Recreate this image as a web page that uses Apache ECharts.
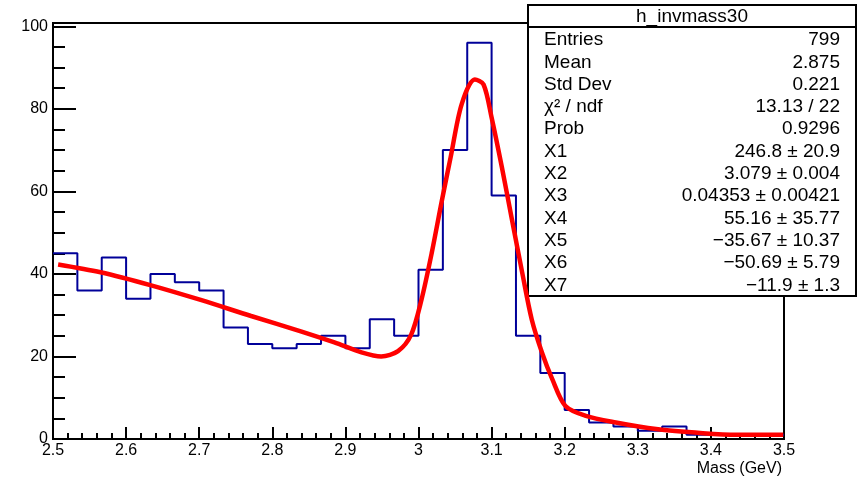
<!DOCTYPE html>
<html lang="en">
<head>
    <meta charset="UTF-8">
    <title>h_invmass30</title>
    <style>
        html, body { margin: 0; padding: 0; background: #fff; }
    </style>
</head>
<body>
<div id="main" style="width: 859px;height:480px;"></div>
<script src="https://cdn.jsdelivr.net/npm/echarts@6/dist/echarts.min.js"></script>
<script>
    // histogram: 30 bins between 2.5 and 3.5 GeV
    var histMin = 2.5;
    var histMax = 3.5;
    var counts = [45, 36, 44, 34, 40, 38, 36, 27, 23, 22,
                  23, 25, 22, 29, 25, 41, 70, 96, 59, 25,
                  16, 7, 4, 3, 2, 3, 1, 1, 1, 1];

    // fit curve
    var fitX = [2.507, 2.565, 2.633, 2.702, 2.771, 2.839, 2.885, 2.922, 2.949, 2.972,
                2.990, 3.004, 3.018, 3.032, 3.044, 3.059, 3.077, 3.089, 3.100, 3.114,
                3.128, 3.142, 3.155, 3.169, 3.183, 3.201, 3.229, 3.270, 3.325, 3.389,
                3.435, 3.499];
    var fitY = [42.3, 40.4, 37.3, 33.7, 29.8, 26.1, 23.4, 21.0, 20.0, 21.3,
                25.3, 33.7, 45.0, 57.8, 68.3, 81.1, 87.1, 85.9, 77.9, 65.9,
                53.0, 40.2, 28.9, 20.9, 14.5, 8.0, 5.6, 4.0, 2.4, 1.4,
                1.0, 1.0];

    // stat box
    var statTitle = 'h_invmass30';
    var statNames = ['Entries', 'Mean', 'Std Dev', 'χ² / ndf', 'Prob',
                     'X1', 'X2', 'X3', 'X4', 'X5', 'X6', 'X7'];
    var statValues = ['799', '2.875', '0.221', '13.13 / 22', '0.9296',
                      '246.8 ± 20.9', '3.079 ± 0.004', '0.04353 ± 0.00421',
                      '55.16 ± 35.77', '\u221235.67 ± 10.37', '\u221250.69 ± 5.79',
                      '\u221211.9 ± 1.3'];

    var histData = [];
    var binW = (histMax - histMin) / counts.length;
    for (var i = 0; i < counts.length; i++) {
        histData.push([histMin + i * binW, counts[i]]);
    }
    histData.push([histMax, counts[counts.length - 1]]);

    var fitData = [];
    for (var j = 0; j < fitX.length; j++) {
        fitData.push([fitX[j], fitY[j]]);
    }

    var font = 'Liberation Sans, Arial, Helvetica, sans-serif';

    // stat box elements
    var boxEls = [
        {
            type: 'rect',
            shape: {x: 528, y: 5, width: 328, height: 291},
            style: {fill: '#fff', stroke: '#000', lineWidth: 2}
        },
        {
            type: 'line',
            shape: {x1: 528, y1: 27, x2: 856, y2: 27},
            style: {stroke: '#000', lineWidth: 2}
        },
        {
            type: 'text',
            x: 692, y: 17,
            style: {text: statTitle, font: '19px ' + font, fill: '#000',
                    align: 'center', verticalAlign: 'middle'}
        }
    ];
    for (var k = 0; k < statNames.length; k++) {
        var yy = 40 + k * 22.3;
        boxEls.push({
            type: 'text', x: 544, y: yy,
            style: {text: statNames[k], font: '19px ' + font, fill: '#000',
                    align: 'left', verticalAlign: 'middle'}
        });
        boxEls.push({
            type: 'text', x: 840, y: yy,
            style: {text: statValues[k], font: '19px ' + font, fill: '#000',
                    align: 'right', verticalAlign: 'middle'}
        });
    }

    var myChart = echarts.init(document.getElementById('main'));

    var option = {
        animation: false,
        backgroundColor: '#fff',
        grid: {
            left: 53, right: 75, top: 23, bottom: 41,
            show: true,
            borderColor: '#000',
            borderWidth: 2,
            backgroundColor: 'transparent'
        },
        xAxis: {
            type: 'value',
            min: 2.5,
            max: 3.5,
            interval: 0.1,
            name: 'Mass (GeV)',
            nameLocation: 'end',
            nameGap: -2,
            nameTextStyle: {
                fontFamily: font, fontSize: 16, color: '#000',
                align: 'right', verticalAlign: 'top', padding: [22, 0, 0, 0]
            },
            axisLine: {lineStyle: {color: '#000', width: 2}},
            axisTick: {inside: true, length: 12, lineStyle: {color: '#000', width: 2}},
            minorTick: {show: true, splitNumber: 5, length: 6, lineStyle: {color: '#000', width: 2}},
            axisLabel: {
                fontFamily: font, fontSize: 16, color: '#000', margin: 4,
                formatter: function (v) {
                    return String(Math.round(v * 10) / 10);
                }
            },
            splitLine: {show: false}
        },
        yAxis: {
            type: 'value',
            min: 0,
            max: 100.8,
            interval: 20,
            axisLine: {show: true, lineStyle: {color: '#000', width: 2}},
            axisTick: {inside: true, length: 23, lineStyle: {color: '#000', width: 2}},
            minorTick: {show: true, splitNumber: 4, length: 12, lineStyle: {color: '#000', width: 2}},
            axisLabel: {
                fontFamily: font, fontSize: 16, color: '#000', margin: 5,
                formatter: function (v) {
                    return (Math.abs(v % 20) < 1e-6) ? String(v) : '';
                }
            },
            splitLine: {show: false}
        },
        series: [
            {
                name: 'h_invmass30',
                type: 'line',
                step: 'end',
                data: histData,
                symbol: 'none',
                lineStyle: {color: '#000099', width: 2},
                z: 2
            },
            {
                name: 'fit',
                type: 'line',
                data: fitData,
                smooth: 0.3,
                symbol: 'none',
                lineStyle: {color: '#ff0000', width: 4.5},
                z: 3
            }
        ],
        graphic: [
            {
                type: 'group',
                z: 100,
                children: boxEls
            }
        ]
    };

    myChart.setOption(option);
</script>
</body>
</html>
